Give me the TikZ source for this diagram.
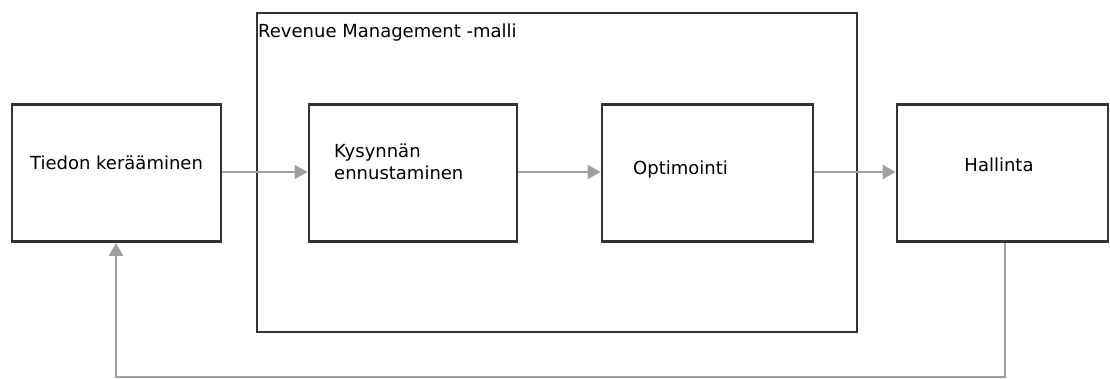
\documentclass[tikz,border=0pt]{standalone}
\usepackage{fontspec}
\setmainfont{DejaVu Sans}
\usetikzlibrary{arrows.meta}
\definecolor{edge}{HTML}{333333}
\definecolor{flow}{HTML}{A0A0A0}
\tikzset{
  stage/.style={draw=edge, line width=2.8pt, fill=white, minimum width=#1, minimum height=137pt, inner sep=0pt},
  stage/.default=209pt,
  label/.style={font=\fontsize{18pt}{22pt}\selectfont, inner sep=0pt, text=black},
  flowline/.style={draw=flow, line width=2.4pt, -{Triangle[length=13pt, width=14pt]}},
}
\begin{document}
\begin{tikzpicture}[x=1pt, y=-1pt]
  \useasboundingbox (0,0) rectangle (1110,379);
  % model frame
  \node[draw=edge, line width=2.8pt, minimum width=600pt, minimum height=319pt, inner sep=0pt] (rm) at (557,172.5) {};
  \node[label, anchor=base west] (rmtitle) at (258,38) {Revenue Management -malli};
  % stages
  \node[stage] (collect) at (116.5,173) {};
  \node[stage=208pt] (forecast) at (413,173) {};
  \node[stage=211pt] (optimize) at (707.5,173) {};
  \node[stage=211pt] (manage) at (1002.5,173) {};
  \node[label, anchor=base] at (116.5,170) {Tiedon kerääminen};
  \node[label, anchor=base west, align=left] at (334,180) {Kysynnän\\ennustaminen};
  \node[label, anchor=base west] at (633,175) {Optimointi};
  \node[label, anchor=base] at (999,172) {Hallinta};
  % flow arrows
  \draw[flowline] (collect.east |- 0,172) -- (forecast.west |- 0,172);
  \draw[flowline] (forecast.east |- 0,172) -- (optimize.west |- 0,172);
  \draw[flowline] (optimize.east |- 0,172) -- (manage.west |- 0,172);
  % feedback loop
  \coordinate (fbR) at (1005,377);
  \coordinate (fbL) at (116,377);
  \draw[flowline] (manage.south -| fbR) -- (fbR) -- (fbL) -- (collect.south -| fbL);
\end{tikzpicture}
\end{document}
